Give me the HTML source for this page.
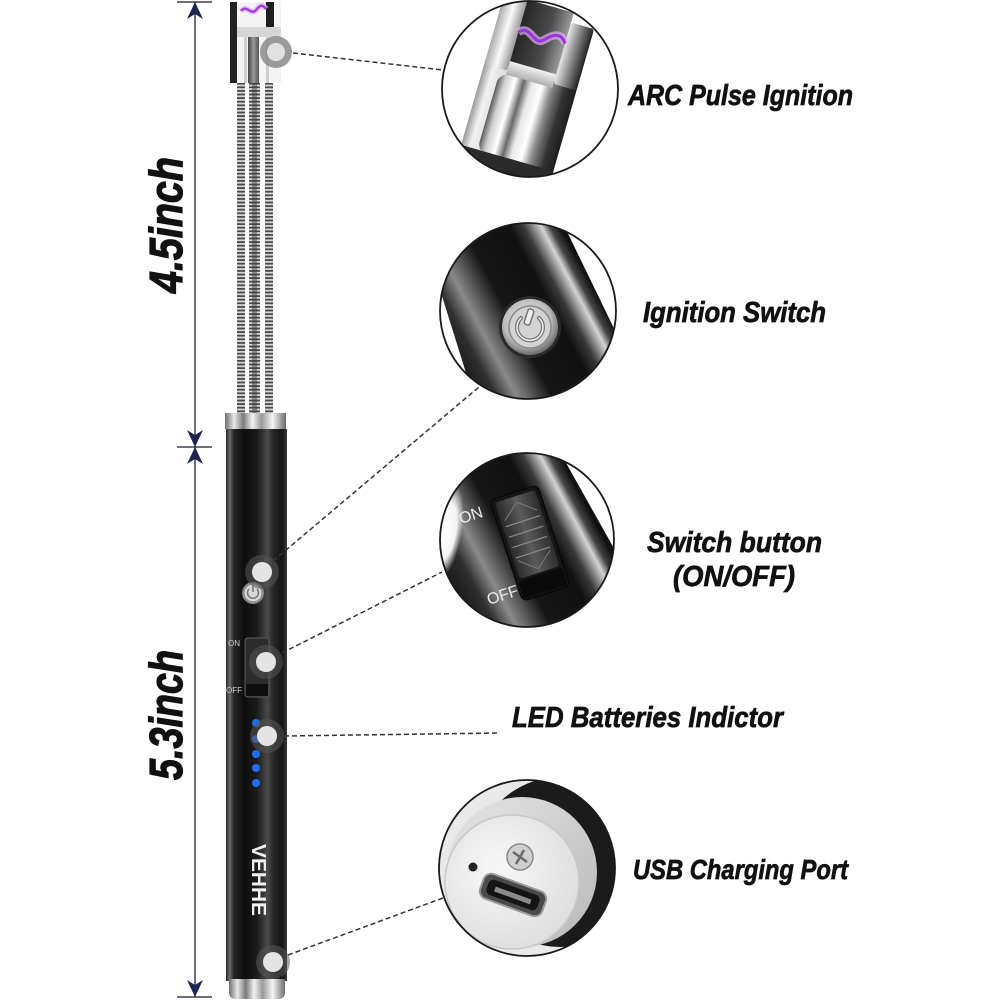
<!DOCTYPE html>
<html>
<head>
<meta charset="utf-8">
<style>
html,body{margin:0;padding:0;background:#fff;}
svg{display:block;}
.lbl{font-family:"Liberation Sans",Arial,sans-serif;font-weight:bold;font-style:italic;fill:#111;stroke:#111;stroke-width:0.7px;}
</style>
</head>
<body>
<svg width="1000" height="1000" viewBox="0 0 1000 1000" xmlns="http://www.w3.org/2000/svg">
<defs>
  <clipPath id="c1"><circle cx="530" cy="89" r="88"/></clipPath>
  <clipPath id="c2"><circle cx="528" cy="311" r="88"/></clipPath>
  <clipPath id="c3"><circle cx="527" cy="540" r="87"/></clipPath>
  <clipPath id="c5"><circle cx="527" cy="868" r="88"/></clipPath>

  <pattern id="sp" width="20" height="3.6" patternUnits="userSpaceOnUse">
    <rect width="20" height="3.6" fill="#d6d6d6"/>
    <rect width="20" height="1.8" fill="#4a4a4a"/>
  </pattern>
  <pattern id="thr" width="80" height="5" patternUnits="userSpaceOnUse">
    <rect width="80" height="5" fill="#e6e6e6"/>
    <rect width="80" height="2" fill="#777"/>
  </pattern>

  <linearGradient id="bodyg" x1="0" x2="1" y1="0" y2="0">
    <stop offset="0" stop-color="#2a2a2a"/>
    <stop offset="0.06" stop-color="#6a6a6a"/>
    <stop offset="0.13" stop-color="#262626"/>
    <stop offset="0.3" stop-color="#0e0e0e"/>
    <stop offset="0.5" stop-color="#1a1a1a"/>
    <stop offset="0.68" stop-color="#4a4a4a"/>
    <stop offset="0.78" stop-color="#262626"/>
    <stop offset="0.92" stop-color="#131313"/>
    <stop offset="1" stop-color="#3a3a3a"/>
  </linearGradient>
  <linearGradient id="silv" x1="0" x2="1" y1="0" y2="0">
    <stop offset="0" stop-color="#6d6d6d"/>
    <stop offset="0.15" stop-color="#e8e8e8"/>
    <stop offset="0.3" stop-color="#7a7a7a"/>
    <stop offset="0.45" stop-color="#f2f2f2"/>
    <stop offset="0.6" stop-color="#9a9a9a"/>
    <stop offset="0.78" stop-color="#f5f5f5"/>
    <stop offset="1" stop-color="#6a6a6a"/>
  </linearGradient>
  <linearGradient id="rod" x1="0" x2="1" y1="0" y2="0">
    <stop offset="0" stop-color="#444"/>
    <stop offset="0.5" stop-color="#9a9a9a"/>
    <stop offset="1" stop-color="#555"/>
  </linearGradient>

  <!-- circle 1 metal -->
  <linearGradient id="cyl" x1="0" x2="1" y1="0" y2="0">
    <stop offset="0" stop-color="#9a9a9a"/>
    <stop offset="0.1" stop-color="#f2f2f2"/>
    <stop offset="0.25" stop-color="#d8d8d8"/>
    <stop offset="0.6" stop-color="#cfcfcf"/>
    <stop offset="0.78" stop-color="#777"/>
    <stop offset="0.88" stop-color="#333"/>
    <stop offset="1" stop-color="#1e1e1e"/>
  </linearGradient>
  <linearGradient id="cyl2" x1="0" x2="1" y1="0" y2="0">
    <stop offset="0" stop-color="#5a5a5a"/>
    <stop offset="0.12" stop-color="#cfcfcf"/>
    <stop offset="0.28" stop-color="#ffffff"/>
    <stop offset="0.42" stop-color="#6a6a6a"/>
    <stop offset="0.55" stop-color="#e8e8e8"/>
    <stop offset="0.72" stop-color="#ffffff"/>
    <stop offset="0.88" stop-color="#8a8a8a"/>
    <stop offset="1" stop-color="#555"/>
  </linearGradient>
  <linearGradient id="prL" x1="0" x2="1" y1="0" y2="0">
    <stop offset="0" stop-color="#aaa"/>
    <stop offset="0.5" stop-color="#fafafa"/>
    <stop offset="1" stop-color="#9a9a9a"/>
  </linearGradient>
  <linearGradient id="prR" x1="0" x2="1" y1="0" y2="0">
    <stop offset="0" stop-color="#e6e6e6"/>
    <stop offset="0.45" stop-color="#8a8a8a"/>
    <stop offset="1" stop-color="#222"/>
  </linearGradient>
  <linearGradient id="win" x1="0" x2="1" y1="0" y2="0">
    <stop offset="0" stop-color="#262626"/>
    <stop offset="0.6" stop-color="#4a4a4a"/>
    <stop offset="1" stop-color="#9a9a9a"/>
  </linearGradient>
  <linearGradient id="bar" x1="0" x2="0" y1="0" y2="1">
    <stop offset="0" stop-color="#f2f2f2"/>
    <stop offset="1" stop-color="#a5a5a5"/>
  </linearGradient>

  <!-- tubes (rect local x 400..660, centre ~528) -->
  <linearGradient id="tube" x1="0" x2="1" y1="0" y2="0">
    <stop offset="0" stop-color="#1a1a1a"/>
    <stop offset="0.15" stop-color="#1a1a1a"/>
    <stop offset="0.23" stop-color="#2e2e2e"/>
    <stop offset="0.30" stop-color="#8a8a8a"/>
    <stop offset="0.35" stop-color="#5a5a5a"/>
    <stop offset="0.42" stop-color="#161616"/>
    <stop offset="0.58" stop-color="#111"/>
    <stop offset="0.63" stop-color="#3a3a3a"/>
    <stop offset="0.69" stop-color="#d4d4d4"/>
    <stop offset="0.72" stop-color="#444"/>
    <stop offset="0.755" stop-color="#111"/>
    <stop offset="1" stop-color="#111"/>
  </linearGradient>
  <radialGradient id="btn" cx="0.45" cy="0.4" r="0.6">
    <stop offset="0" stop-color="#e8e8e8"/>
    <stop offset="0.7" stop-color="#bcbcbc"/>
    <stop offset="1" stop-color="#6a6a6a"/>
  </radialGradient>
  <linearGradient id="slotg" x1="0" x2="1" y1="0" y2="0">
    <stop offset="0" stop-color="#2a2a2a"/>
    <stop offset="0.5" stop-color="#5a5a5a"/>
    <stop offset="1" stop-color="#2e2e2e"/>
  </linearGradient>
  <radialGradient id="refl" cx="0.5" cy="0.5" r="0.5">
    <stop offset="0" stop-color="#ffffff"/>
    <stop offset="0.6" stop-color="#f4f4f4"/>
    <stop offset="1" stop-color="#f4f4f4" stop-opacity="0"/>
  </radialGradient>

  <!-- usb -->
  <linearGradient id="usbside" x1="0" x2="1" y1="0" y2="1">
    <stop offset="0" stop-color="#e6e6e6"/>
    <stop offset="1" stop-color="#b8b8b8"/>
  </linearGradient>
  <radialGradient id="usbface" cx="0.4" cy="0.4" r="0.7">
    <stop offset="0" stop-color="#f8f8f8"/>
    <stop offset="1" stop-color="#dcdcdc"/>
  </radialGradient>
</defs>

<!-- ===== Dimension lines ===== -->
<g stroke="#3b3f52" stroke-width="1.5">
  <line x1="195" y1="2" x2="195" y2="997"/>
  <line x1="177" y1="2" x2="212" y2="2"/>
  <line x1="177" y1="447" x2="212" y2="447"/>
  <line x1="177" y1="997" x2="212" y2="997"/>
</g>
<g fill="#1b2550">
  <path d="M195,2 L187,19 L195,14 L203,19 Z"/>
  <path d="M195,447 L187,430 L195,435 L203,430 Z"/>
  <path d="M195,447 L187,464 L195,459 L203,464 Z"/>
  <path d="M195,997 L187,980 L195,985 L203,980 Z"/>
</g>
<text class="lbl" font-size="46" text-anchor="middle" textLength="136" lengthAdjust="spacingAndGlyphs" style="stroke-width:1.2px" transform="translate(182,225) rotate(-90)">4.5inch</text>
<text class="lbl" font-size="46" text-anchor="middle" textLength="130" lengthAdjust="spacingAndGlyphs" style="stroke-width:1.2px" transform="translate(182,715) rotate(-90)">5.3inch</text>

<!-- ===== Lighter head ===== -->
<rect x="230" y="2" width="7" height="81" fill="#222"/>
<rect x="237" y="2" width="44" height="81" fill="#f4f4f4"/>
<rect x="266" y="2" width="8" height="25" fill="#1e1e1e"/>
<rect x="237" y="27" width="44" height="10" fill="#d6d6d6"/>
<rect x="244" y="37" width="3" height="46" fill="#cfcfcf"/>
<rect x="248" y="37" width="11" height="46" fill="url(#rod)"/>
<rect x="266" y="37" width="3" height="46" fill="#cfcfcf"/>
<path d="M241,11 C247,4 251,16 256,10 S263,5 266,9" fill="none" stroke="#e3b4f5" stroke-width="6" opacity="0.7"/>
<path d="M241,11 C247,4 251,16 256,10 S263,5 266,9" fill="none" stroke="#a83ee0" stroke-width="2.5"/>

<!-- springs -->
<rect x="237" y="83" width="8" height="330" fill="url(#sp)"/>
<rect x="249" y="83" width="11" height="330" fill="url(#sp)"/>
<rect x="252" y="83" width="5" height="330" fill="#3a3a3a" opacity="0.45"/>
<rect x="265" y="83" width="8" height="330" fill="url(#sp)"/>

<!-- collar & body -->
<rect x="225" y="413" width="61" height="16" fill="url(#silv)"/>
<rect x="226" y="429" width="61" height="552" fill="url(#bodyg)"/>
<path d="M229,979 H285 V992 Q285,999 278,999 H236 Q229,999 229,992 Z" fill="url(#silv)"/>

<!-- power button on body -->
<circle cx="253" cy="593" r="11" fill="#8a8a8a"/>
<circle cx="253" cy="593" r="8.5" fill="#d6d6d6"/>
<path d="M249,589 A5.5,5.5 0 1 0 257,589" fill="none" stroke="#777" stroke-width="1.5"/>
<line x1="253" y1="585" x2="253" y2="592" stroke="#777" stroke-width="1.5"/>

<!-- switch on body -->
<rect x="245" y="638" width="24" height="59" rx="3" fill="#2c2c2c" stroke="#5a5a5a" stroke-width="1"/>
<rect x="246" y="684" width="22" height="12" fill="#0e0e0e"/>
<text x="228" y="646" font-family="Liberation Sans,Arial,sans-serif" font-size="8" fill="#cfcfcf">ON</text>
<text x="226" y="693" font-family="Liberation Sans,Arial,sans-serif" font-size="8" fill="#cfcfcf">OFF</text>

<!-- LEDs -->
<g fill="#1d6ff2">
  <circle cx="256" cy="723" r="4"/>
  <circle cx="256" cy="739" r="4"/>
  <circle cx="256" cy="754" r="4"/>
  <circle cx="256" cy="768" r="4"/>
  <circle cx="256" cy="783" r="4"/>
</g>

<!-- VEHHE -->
<text font-family="Liberation Sans,Arial,sans-serif" font-weight="bold" font-size="20" fill="#f0f0f0" text-anchor="middle" textLength="72" lengthAdjust="spacingAndGlyphs" transform="translate(252,880) rotate(90)">VEHHE</text>

<!-- markers -->
<circle cx="276" cy="52" r="16" fill="#8a8a8a" opacity="0.85"/>
<circle cx="276" cy="52" r="9" fill="#e2e2e2"/>
<g>
  <circle cx="262" cy="572" r="17" fill="#555" opacity="0.55"/>
  <circle cx="262" cy="572" r="10" fill="#e4e4e4"/>
  <circle cx="266" cy="662" r="17" fill="#555" opacity="0.55"/>
  <circle cx="266" cy="662" r="10" fill="#e4e4e4"/>
  <circle cx="267" cy="736" r="17" fill="#555" opacity="0.55"/>
  <circle cx="267" cy="736" r="10" fill="#e4e4e4"/>
  <circle cx="273" cy="962" r="17" fill="#555" opacity="0.55"/>
  <circle cx="273" cy="962" r="10" fill="#e4e4e4"/>
</g>

<!-- ===== Dashed connectors ===== -->
<g stroke="#333" stroke-width="1.5" stroke-dasharray="5 3" fill="none">
  <line x1="293" y1="53" x2="443" y2="70"/>
  <line x1="273" y1="561" x2="479" y2="387"/>
  <line x1="282" y1="653" x2="442" y2="572"/>
  <line x1="284" y1="736" x2="500" y2="733"/>
  <line x1="288" y1="955" x2="443" y2="898"/>
</g>

<!-- ===== Circle 1: ARC head ===== -->
<g clip-path="url(#c1)">
  <rect x="440" y="0" width="180" height="180" fill="#fff"/>
  <g transform="rotate(16 521 110)">
    <rect x="497" y="175" width="46" height="60" fill="url(#thr)"/>
    <rect x="473" y="70" width="96" height="100" fill="url(#cyl)"/>
    <rect x="473" y="2" width="24" height="74" rx="3" fill="url(#prL)"/>
    <rect x="545" y="12" width="24" height="64" rx="3" fill="url(#prR)"/>
    <rect x="497" y="2" width="48" height="68" fill="url(#win)"/>
    <rect x="497" y="66" width="48" height="16" fill="url(#bar)"/>
    <rect x="490" y="80" width="62" height="82" rx="10" fill="url(#cyl2)"/>
    <rect x="473" y="160" width="96" height="22" fill="#2a2a2a"/>
    <path d="M497,36 C507,24 515,46 524,36 S540,26 545,34" fill="none" stroke="#e0b0f7" stroke-width="8" opacity="0.7"/>
    <path d="M497,36 C507,24 515,46 524,36 S540,26 545,34" fill="none" stroke="#9b35e0" stroke-width="3"/>
  </g>
</g>
<circle cx="530" cy="89" r="88" fill="none" stroke="#1a1a1a" stroke-width="1.8"/>

<!-- ===== Circle 2: Ignition switch ===== -->
<g clip-path="url(#c2)">
  <rect x="400" y="140" width="260" height="340" fill="url(#tube)" transform="rotate(-28 528 311)"/>
  <polygon points="559,215 650,215 650,345 622,345" fill="#fff"/>
  <polygon points="420,280 437,280 476,405 420,405" fill="#fff"/>
  <circle cx="530" cy="327" r="31" fill="#2a2a2a"/>
  <circle cx="530" cy="327" r="28" fill="url(#btn)"/>
  <circle cx="530" cy="327" r="21" fill="#d2d2d2" stroke="#8a8a8a" stroke-width="1.5"/>
  <path d="M521,318 A13,13 0 1 0 539,318" fill="none" stroke="#777" stroke-width="4" stroke-linecap="round"/>
  <path d="M521,318 A13,13 0 1 0 539,318" fill="none" stroke="#eee" stroke-width="1.5" stroke-linecap="round"/>
  <rect x="526" y="309" width="6" height="16" rx="2" fill="#eee" stroke="#777" stroke-width="1.5" transform="rotate(18 529 317)"/>
</g>
<circle cx="528" cy="311" r="88" fill="none" stroke="#1a1a1a" stroke-width="1.8"/>

<!-- ===== Circle 3: ON/OFF switch ===== -->
<g clip-path="url(#c3)">
  <rect x="399" y="370" width="260" height="340" fill="url(#tube)" transform="rotate(-28 527 540)"/>
  <polygon points="556,445 650,445 650,560 616,552" fill="#fff"/>
  <ellipse cx="446" cy="532" rx="16" ry="48" fill="url(#refl)" transform="rotate(10 446 532)"/>
  <g transform="rotate(-18 530 543)">
    <rect x="505" y="490" width="50" height="106" rx="6" fill="#161616" stroke="#080808" stroke-width="1.5"/>
    <rect x="509" y="494" width="42" height="80" rx="3" fill="url(#slotg)"/>
    <polyline points="513,514 530,500 547,514" fill="none" stroke="#7a7a7a" stroke-width="1"/>
    <polyline points="513,556 530,570 547,556" fill="none" stroke="#7a7a7a" stroke-width="1"/>
    <g stroke="#8a8a8a" stroke-width="1.2">
      <line x1="512" y1="520" x2="548" y2="520"/>
      <line x1="512" y1="531" x2="548" y2="531"/>
      <line x1="512" y1="542" x2="548" y2="542"/>
      <line x1="512" y1="553" x2="548" y2="553"/>
    </g>
    <rect x="507" y="576" width="46" height="18" rx="3" fill="#0a0a0a"/>
  </g>
  <text x="0" y="0" font-family="Liberation Sans,Arial,sans-serif" font-size="16" fill="#ececec" transform="translate(461,524) rotate(-18)">ON</text>
  <text x="0" y="0" font-family="Liberation Sans,Arial,sans-serif" font-size="16" fill="#ececec" transform="translate(489,605) rotate(-18)">OFF</text>
</g>
<circle cx="527" cy="540" r="87" fill="none" stroke="#1a1a1a" stroke-width="1.8"/>

<!-- ===== Circle 5: USB ===== -->
<g clip-path="url(#c5)">
  <rect x="438" y="779" width="180" height="180" fill="#e9e9e9"/>
  <circle cx="560" cy="862" r="85" fill="#1b1b1b"/>
  <circle cx="522" cy="872" r="75" fill="url(#usbside)"/>
  <circle cx="512" cy="882" r="67" fill="url(#usbface)" stroke="#c8c8c8" stroke-width="1.5"/>
  <circle cx="473" cy="867" r="4.5" fill="#222"/>
  <circle cx="520" cy="857" r="13" fill="#d0d0d0" stroke="#8a8a8a" stroke-width="1.5"/>
  <g stroke="#6a6a6a" stroke-width="2.5">
    <line x1="513" y1="852" x2="527" y2="862"/>
    <line x1="524" y1="850" x2="516" y2="864"/>
  </g>
  <g transform="rotate(20 513 895)">
    <rect x="480" y="882" width="66" height="26" rx="8" fill="#4a4a4a" stroke="#9a9a9a" stroke-width="2"/>
    <rect x="486" y="887" width="54" height="16" rx="5" fill="#141414"/>
    <rect x="494" y="893" width="38" height="5" fill="#8a8a8a"/>
  </g>
</g>
<circle cx="527" cy="868" r="88" fill="none" stroke="#1a1a1a" stroke-width="1.8"/>

<!-- ===== Labels ===== -->
<text class="lbl" x="628" y="105" font-size="29" textLength="225" lengthAdjust="spacingAndGlyphs">ARC Pulse Ignition</text>
<text class="lbl" x="643" y="322" font-size="29" textLength="183" lengthAdjust="spacingAndGlyphs">Ignition Switch</text>
<text class="lbl" x="647" y="552" font-size="29" textLength="175" lengthAdjust="spacingAndGlyphs">Switch button</text>
<text class="lbl" x="673" y="586" font-size="29" textLength="122" lengthAdjust="spacingAndGlyphs">(ON/OFF)</text>
<text class="lbl" x="512" y="727" font-size="29" textLength="271" lengthAdjust="spacingAndGlyphs">LED Batteries Indictor</text>
<text class="lbl" x="633" y="879" font-size="28" textLength="215" lengthAdjust="spacingAndGlyphs">USB Charging Port</text>
</svg>
</body>
</html>
